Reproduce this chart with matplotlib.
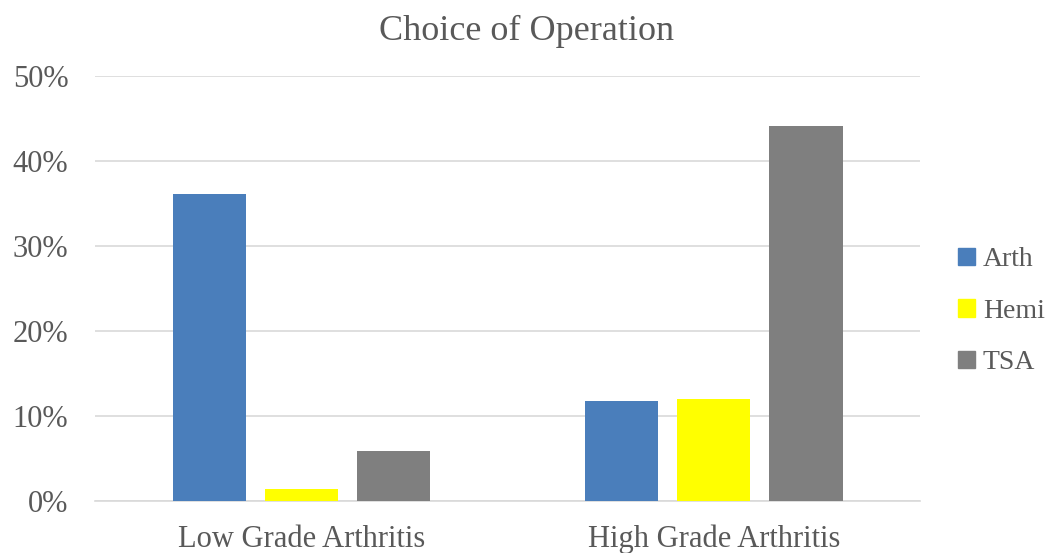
import numpy as np
import matplotlib
matplotlib.use('Agg')
import matplotlib.pyplot as plt
from matplotlib.patches import Patch

categories = ['Low Grade Arthritis', 'High Grade Arthritis']
series = ['Arth', 'Hemi', 'TSA']
arth = [36.1, 11.8]
hemi = [1.4, 12.0]
tsa = [5.9, 44.1]
colors = ['#4a7ebb', '#ffff00', '#7f7f7f']

plt.rcParams['font.family'] = ['Liberation Serif', 'DejaVu Serif']
text_color = '#595959'

fig = plt.figure(figsize=(10.53, 5.53), dpi=100)
ax = fig.add_axes([0.090, 0.094, 0.784, 0.769])

x = np.arange(len(categories))
width = 0.177
step = 0.223
for i, (vals, c) in enumerate(zip([arth, hemi, tsa], colors)):
    ax.bar(x + (i - 1) * step, vals, width, color=c, zorder=3)

ax.set_xlim(-0.5, 1.5)
ax.set_ylim(0, 50)
ax.set_yticks(np.arange(0, 51, 10))
ax.set_yticklabels([f'{v}%' for v in range(0, 51, 10)])
ax.set_xticks(x)
ax.set_xticklabels(categories)
ax.yaxis.grid(True, color='#d9d9d9', linewidth=1.2, zorder=0)
ax.tick_params(axis='both', length=0, labelsize=22, colors=text_color)
ax.tick_params(axis='y', pad=19)
ax.tick_params(axis='x', pad=17)
for s in ['top', 'right', 'left']:
    ax.spines[s].set_visible(False)
ax.spines['bottom'].set_color('#d9d9d9')
ax.spines['bottom'].set_linewidth(1.2)

fig.text(0.5, 0.944, 'Choice of Operation', ha='center', va='center',
         fontsize=26, color=text_color)

handles = [Patch(color=c, label=s) for c, s in zip(colors, series)]
fig.legend(handles=handles, loc='center left', bbox_to_anchor=(0.886, 0.437),
           frameon=False, fontsize=20, handlelength=0.6, handleheight=0.6,
           handletextpad=0.3, labelspacing=0.95, labelcolor=text_color)

fig.savefig('out.png', dpi=100)
